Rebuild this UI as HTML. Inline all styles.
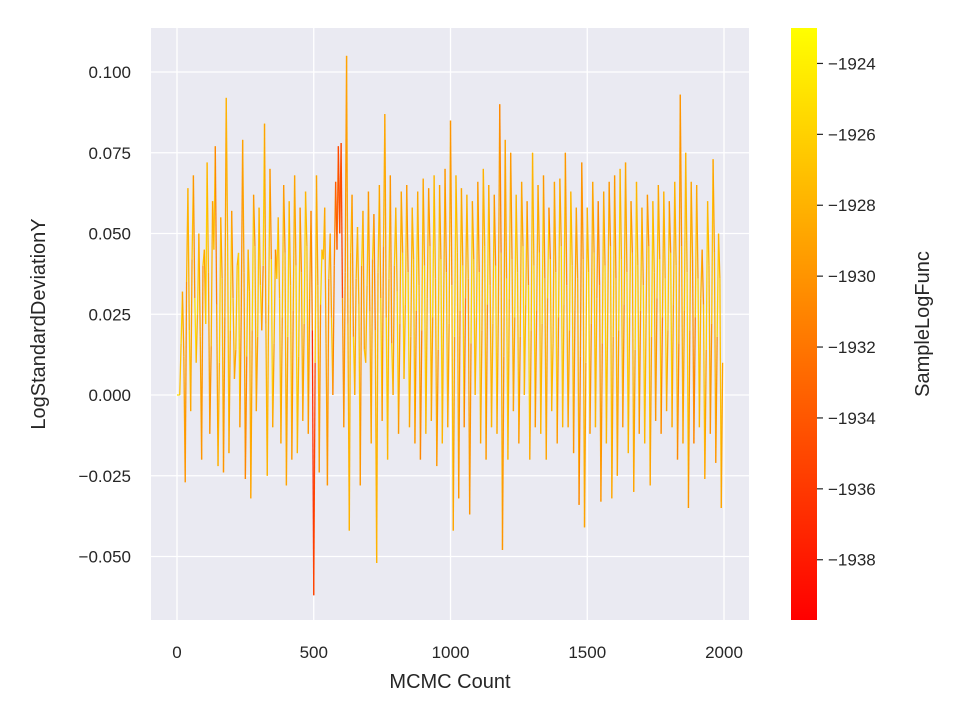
<!DOCTYPE html>
<html><head><meta charset="utf-8"><style>
body{margin:0;background:#fff;}
svg text{font-family:"Liberation Sans",Arial,sans-serif;fill:#262626;}
</style></head><body>
<svg id="chart" width="960" height="720" viewBox="0 0 960 720" xmlns="http://www.w3.org/2000/svg">
<rect x="151" y="28" width="598" height="592" fill="#eaeaf2"/>
<g id="grid"></g><g id="marks"></g><g id="axes"></g>
<defs><linearGradient id="cb" x1="0" y1="1" x2="0" y2="0"><stop offset="0" stop-color="#ff0000"/><stop offset="1" stop-color="#ffff00"/></linearGradient></defs>
<rect x="791" y="28" width="26" height="592" fill="url(#cb)"/>
<g id="cbar"></g>
<text x="450" y="688" font-size="20" text-anchor="middle">MCMC Count</text>
<text transform="translate(45,324) rotate(-90)" font-size="20" text-anchor="middle">LogStandardDeviationY</text>
<text transform="translate(929,324) rotate(-90)" font-size="20" text-anchor="middle">SampleLogFunc</text>
</svg>
<script>
const stepSize = 10;
const yValues = [0,0,0.032,-0.027,0.064,-0.005,0.068,0.01,0.05,-0.02,
0.045,0.072,-0.012,0.060,0.077,-0.022,0.055,-0.024,0.092,-0.018,
0.057,0.005,0.04,-0.01,0.079,-0.026,0.045,-0.032,0.062,-0.005,
0.058,0.02,0.084,-0.025,0.07,-0.01,0.045,0.055,-0.015,0.065,
-0.028,0.06,-0.02,0.068,-0.018,0.058,-0.008,0.063,-0.012,0.057,
-0.062,0.068,-0.024,0.045,0.058,-0.028,0.05,0.0,0.066,0.077,
0.078,-0.01,0.105,-0.042,0.062,0.0,0.052,-0.028,0.057,0.01,
0.063,-0.015,0.056,-0.052,0.065,-0.008,0.087,-0.02,0.068,0.0,
0.058,-0.012,0.063,0.005,0.065,-0.01,0.058,-0.015,0.063,-0.02,
0.067,-0.012,0.064,-0.008,0.068,-0.022,0.065,-0.015,0.07,-0.01,
0.085,-0.042,0.068,-0.032,0.064,-0.01,0.062,-0.037,0.06,0.0,
0.066,-0.015,0.07,-0.02,0.065,-0.01,0.062,-0.012,0.09,-0.048,
0.079,-0.02,0.075,-0.005,0.062,-0.015,0.066,0.0,0.06,-0.02,
0.075,-0.01,0.065,-0.012,0.068,-0.02,0.058,-0.005,0.066,-0.015,
0.067,-0.01,0.075,-0.01,0.063,-0.018,0.058,-0.034,0.072,-0.041,
0.058,-0.012,0.066,-0.01,0.06,-0.033,0.063,-0.015,0.066,-0.032,
0.068,-0.025,0.07,-0.01,0.072,-0.018,0.06,-0.03,0.066,-0.012,
0.058,-0.015,0.062,-0.028,0.06,-0.008,0.065,-0.012,0.063,-0.005,
0.06,-0.01,0.066,-0.02,0.093,-0.015,0.075,-0.035,0.066,-0.015,
0.065,-0.01,0.045,-0.026,0.06,-0.012,0.073,-0.021,0.05,-0.035];
const yHalf = [0,0.016,0.012,0.035,0.02,0.042,0.03,0.025,0.018,0.04,
0.022,0.038,0.015,0.045,0.028,0.01,0.036,0.024,0.048,0.02,
0.03,0.014,0.044,0.026,0.038,0.012,0.032,0.02,0.046,0.018,
0.034,0.04,0.022,0.028,0.042,0.016,0.036,0.03,0.024,0.044,
0.018,0.034,0.026,0.04,0.012,0.038,0.022,0.046,0.03,0.02,
0.01,0.034,0.028,0.042,0.016,0.036,0.024,0.04,0.045,0.05,
0.03,0.038,0.022,0.044,0.018,0.036,0.028,0.04,0.014,0.034,
0.026,0.042,0.02,0.038,0.03,0.046,0.024,0.036,0.016,0.04,
0.032,0.022,0.044,0.028,0.038,0.018,0.042,0.026,0.034,0.02,
0.04,0.03,0.046,0.024,0.036,0.014,0.042,0.028,0.038,0.022,
0.034,0.018,0.044,0.026,0.04,0.03,0.036,0.016,0.042,0.024,
0.038,0.02,0.046,0.028,0.034,0.022,0.04,0.026,0.044,0.012,
0.036,0.03,0.042,0.024,0.038,0.018,0.046,0.028,0.034,0.02,
0.04,0.026,0.044,0.022,0.036,0.03,0.042,0.016,0.038,0.024,
0.046,0.028,0.034,0.02,0.04,0.026,0.036,0.012,0.042,0.01,
0.038,0.022,0.044,0.03,0.034,0.016,0.04,0.026,0.046,0.018,
0.036,0.02,0.042,0.028,0.038,0.024,0.044,0.014,0.04,0.026,
0.034,0.022,0.046,0.018,0.038,0.03,0.042,0.024,0.036,0.02,
0.044,0.028,0.04,0.016,0.046,0.026,0.038,0.02,0.042,0.024,
0.036,0.03,0.028,0.014,0.04,0.022,0.044,0.018,0.036,0.01];
const logFunc = [-1925,-1925,-1926,-1929,-1928,-1926,-1927,-1925,-1926,-1929,
-1927,-1926,-1929,-1928,-1927,-1929,-1926,-1928,-1929,-1927,
-1926,-1928,-1927,-1926,-1930,-1929,-1927,-1928,-1926,-1928,
-1927,-1926,-1926,-1928,-1927,-1926,-1928,-1926,-1927,-1927,
-1928,-1926,-1927,-1928,-1926,-1927,-1928,-1926,-1927,-1929,
-1937,-1927,-1928,-1926,-1927,-1929,-1928,-1927,-1931,-1933,
-1934,-1930,-1930,-1928,-1927,-1926,-1928,-1927,-1926,-1927,
-1927,-1928,-1926,-1928,-1927,-1926,-1928,-1926,-1927,-1926,
-1927,-1926,-1928,-1926,-1927,-1926,-1928,-1927,-1926,-1928,
-1927,-1926,-1928,-1927,-1926,-1928,-1927,-1926,-1928,-1927,
-1928,-1927,-1926,-1928,-1927,-1926,-1928,-1929,-1926,-1927,
-1927,-1926,-1928,-1927,-1926,-1928,-1927,-1926,-1929,-1928,
-1929,-1926,-1927,-1928,-1926,-1927,-1928,-1926,-1927,-1926,
-1927,-1926,-1928,-1927,-1926,-1928,-1926,-1927,-1928,-1926,
-1927,-1926,-1927,-1928,-1926,-1927,-1929,-1928,-1930,-1928,
-1927,-1926,-1928,-1927,-1929,-1929,-1927,-1926,-1928,-1927,
-1927,-1928,-1926,-1927,-1928,-1926,-1927,-1928,-1926,-1927,
-1927,-1926,-1928,-1927,-1926,-1928,-1927,-1926,-1928,-1926,
-1927,-1926,-1928,-1927,-1929,-1928,-1927,-1926,-1928,-1930,
-1927,-1926,-1928,-1927,-1926,-1928,-1927,-1928,-1926,-1927];
const logHalf = [-1925,-1927,-1929,-1930,-1928,-1929,-1930,-1928,-1929,-1930,
-1929,-1928,-1930,-1929,-1931,-1928,-1929,-1930,-1928,-1929,
-1930,-1929,-1928,-1930,-1929,-1931,-1928,-1929,-1930,-1929,
-1928,-1930,-1929,-1928,-1930,-1929,-1931,-1928,-1929,-1930,
-1929,-1928,-1930,-1929,-1928,-1930,-1929,-1928,-1930,-1931,
-1935,-1929,-1930,-1928,-1929,-1930,-1929,-1931,-1934,-1935,
-1935,-1930,-1929,-1928,-1930,-1929,-1928,-1930,-1929,-1928,
-1930,-1929,-1931,-1928,-1929,-1930,-1929,-1928,-1930,-1929,
-1928,-1930,-1929,-1928,-1930,-1929,-1928,-1930,-1929,-1931,
-1929,-1928,-1930,-1929,-1928,-1930,-1929,-1928,-1930,-1929,
-1930,-1929,-1928,-1930,-1929,-1931,-1928,-1930,-1929,-1928,
-1930,-1929,-1928,-1930,-1929,-1928,-1930,-1929,-1931,-1930,
-1929,-1928,-1930,-1929,-1928,-1930,-1929,-1928,-1930,-1929,
-1928,-1930,-1929,-1928,-1930,-1929,-1931,-1928,-1929,-1930,
-1929,-1928,-1930,-1929,-1928,-1930,-1929,-1931,-1930,-1929,
-1928,-1930,-1929,-1928,-1931,-1930,-1929,-1928,-1930,-1929,
-1930,-1929,-1928,-1930,-1929,-1928,-1930,-1929,-1928,-1930,
-1929,-1928,-1930,-1929,-1928,-1930,-1929,-1931,-1928,-1929,
-1930,-1929,-1928,-1931,-1930,-1929,-1928,-1930,-1929,-1931,
-1929,-1928,-1930,-1929,-1928,-1930,-1929,-1930,-1928,-1929];
const xTicks = [0,500,1000,1500,2000];
const yTicks = [-0.050,-0.025,0.000,0.025,0.050,0.075,0.100];
const cTicks = [-1938,-1936,-1934,-1932,-1930,-1928,-1926,-1924];
const cMin = -1939.7, cMax = -1923.0;

const NS="http://www.w3.org/2000/svg";
const X = v => 177 + v*(724-177)/2000;
const Y = v => 395 - v*3230;
const C = v => 620 - (v - cMin)/(cMax - cMin)*592;
const col = v => { let t=Math.max(0,Math.min(1,(v-cMin)/(cMax-cMin))); return `rgb(255,${Math.round(t*255)},0)`; };
const fmt = (v,d) => (v<0?"\u2212":"")+Math.abs(v).toFixed(d);
function mk(tag, attrs, parent){const e=document.createElementNS(NS,tag);for(const k in attrs)e.setAttribute(k,attrs[k]);parent.appendChild(e);return e;}
const grid=document.getElementById('grid'), marks=document.getElementById('marks'), axes=document.getElementById('axes'), cbar=document.getElementById('cbar');
xTicks.forEach(t=>{
  const l=mk('line',{x1:X(t),x2:X(t),y1:28,y2:620,stroke:'#fff','stroke-width':1.3},grid);
  
  
  const tx=mk('text',{x:X(t),y:658,'font-size':17,'text-anchor':'middle'},axes);
  tx.textContent=String(t);
  
  
});
yTicks.forEach(t=>{
  const l=mk('line',{x1:151,x2:749,y1:Y(t),y2:Y(t),stroke:'#fff','stroke-width':1.3},grid);
  
  
  const tx=mk('text',{x:131,y:Y(t)+6,'font-size':17,'text-anchor':'end'},axes);
  tx.textContent=fmt(t,3);
  
  
});
// interleave full-step and half-step samples
const seriesX=[], seriesY=[], seriesC=[];
for(let i=0;i<yValues.length;i++){
  seriesX.push(i*stepSize); seriesY.push(yValues[i]); seriesC.push(logFunc[i]);
  if(i<yHalf.length){ seriesX.push(i*stepSize+stepSize/2); seriesY.push(yHalf[i]); seriesC.push(logHalf[i]); }
}
for(let i=0;i<seriesY.length-1;i++){
  const s=mk('line',{x1:X(seriesX[i]),y1:Y(seriesY[i]),x2:X(seriesX[i+1]),y2:Y(seriesY[i+1]),stroke:col(seriesC[i+1]),'stroke-width':1.3},marks);
  
  
}
cTicks.forEach(t=>{
  const l=mk('line',{x1:817,x2:823,y1:C(t),y2:C(t),stroke:'#262626','stroke-width':1.2},cbar);
  
  
  const tx=mk('text',{x:828,y:C(t)+6,'font-size':17},cbar);
  tx.textContent=fmt(t,0);
  
  
});
</script>
</body></html>
